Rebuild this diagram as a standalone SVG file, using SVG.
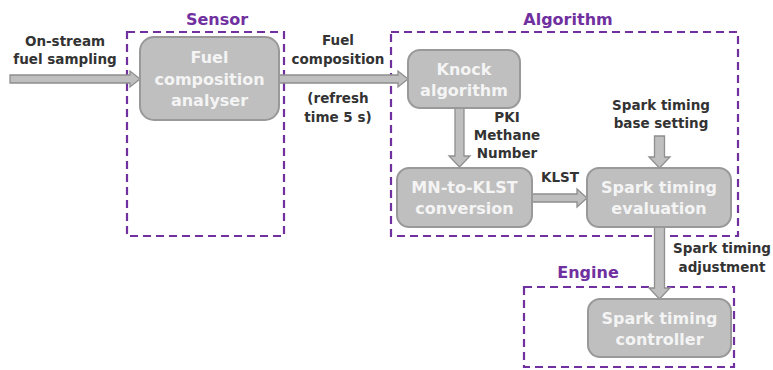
<svg xmlns="http://www.w3.org/2000/svg" width="773" height="370" viewBox="0 0 773 370">
<style>
.grp{fill:none;stroke:#7030a0;stroke-width:2.2;stroke-dasharray:8 5}
.gl{fill:#7030a0;font-family:"DejaVu Sans",Verdana,sans-serif;font-weight:bold;font-size:16px;text-anchor:middle}
.nd{fill:#bfbfbf;stroke:#999999;stroke-width:2}
.nt{fill:#f4f4f4;font-family:"DejaVu Sans",Verdana,sans-serif;font-weight:bold;font-size:16px;text-anchor:middle}
.lb{fill:#333333;font-family:"DejaVu Sans",Verdana,sans-serif;font-weight:bold;font-size:13.5px;text-anchor:middle}
.ar{fill:#bfbfbf;stroke:#8f8f8f;stroke-width:1.3;stroke-linejoin:miter}
</style>
<rect width="773" height="370" fill="#ffffff"/>
<g id="sensor-group">
<rect class="grp" x="127" y="32" width="157" height="204"/>
<text class="gl" x="217" y="25">Sensor</text>
</g>
<g id="algorithm-group">
<rect class="grp" x="391" y="32" width="347" height="204"/>
<text class="gl" x="568" y="25">Algorithm</text>
</g>
<g id="engine-group">
<rect class="grp" x="524" y="287" width="210" height="80"/>
<text class="gl" x="588" y="278">Engine</text>
</g>
<g id="connectors">
<path class="ar" d="M10,75 H130 V71 L140,79 L130,87 V83 H10 Z"/>
<path class="ar" d="M279,75 H398 V71 L408,79 L398,87 V83 H279 Z"/>
<path class="ar" d="M455,108 V156 H449 L459.5,167 L470,156 H464 V108 Z"/>
<path class="ar" d="M532,194 H577 V189 L587,198 L577,207 V202 H532 Z"/>
<path class="ar" d="M654.5,136 V157 H649 L659.5,168 L670,157 H664.5 V136 Z"/>
<path class="ar" d="M654.5,227 V288 H649 L659.5,299 L670,288 H664.5 V227 Z"/>
</g>
<g id="labels">
<text class="lb" x="65" y="46">On-stream</text>
<text class="lb" x="65" y="64">fuel sampling</text>
<text class="lb" x="338" y="45">Fuel</text>
<text class="lb" x="338" y="64">composition</text>
<text class="lb" x="338" y="103">(refresh</text>
<text class="lb" x="338" y="122">time 5 s)</text>
<text class="lb" x="507" y="122">PKI</text>
<text class="lb" x="507" y="140">Methane</text>
<text class="lb" x="507" y="158">Number</text>
<text class="lb" x="560" y="182">KLST</text>
<text class="lb" x="661" y="110">Spark timing</text>
<text class="lb" x="661" y="128">base setting</text>
<text class="lb" x="722" y="253">Spark timing</text>
<text class="lb" x="722" y="272">adjustment</text>
</g>
<g id="fuel-composition-analyser">
<rect class="nd" x="140" y="37" width="139" height="83" rx="14"/>
<text class="nt" x="209.5" y="63">Fuel</text>
<text class="nt" x="209.5" y="85">composition</text>
<text class="nt" x="209.5" y="106">analyser</text>
</g>
<g id="knock-algorithm">
<rect class="nd" x="408" y="50" width="112" height="58" rx="12"/>
<text class="nt" x="464" y="75">Knock</text>
<text class="nt" x="464" y="96">algorithm</text>
</g>
<g id="mn-to-klst">
<rect class="nd" x="397" y="168" width="135" height="59" rx="12"/>
<text class="nt" x="464.5" y="193">MN-to-KLST</text>
<text class="nt" x="464.5" y="214">conversion</text>
</g>
<g id="spark-timing-evaluation">
<rect class="nd" x="587" y="168" width="144" height="59" rx="12"/>
<text class="nt" x="659" y="193">Spark timing</text>
<text class="nt" x="659" y="214">evaluation</text>
</g>
<g id="spark-timing-controller">
<rect class="nd" x="588" y="299" width="143" height="58" rx="12"/>
<text class="nt" x="659.5" y="324">Spark timing</text>
<text class="nt" x="659.5" y="345">controller</text>
</g>
</svg>
